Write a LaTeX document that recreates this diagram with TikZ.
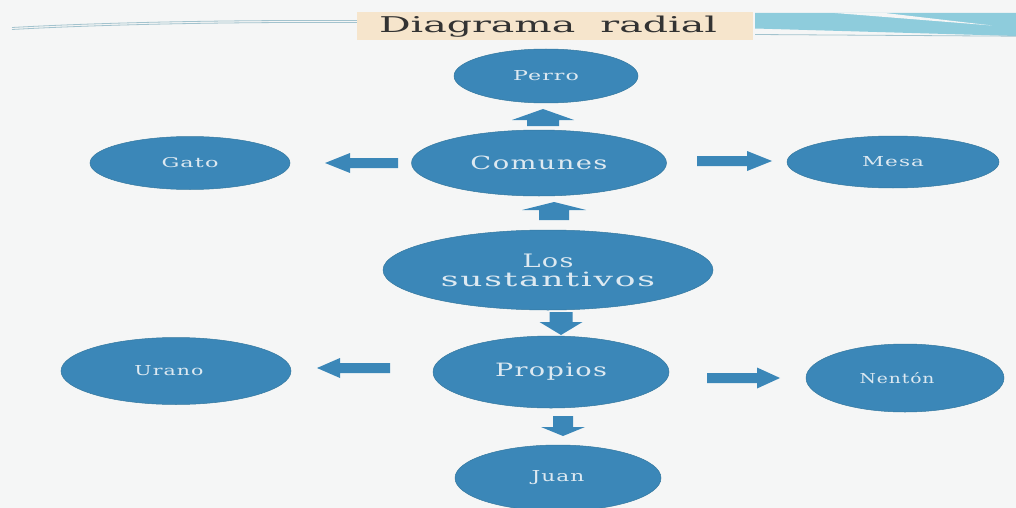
\documentclass[tikz,border=0pt]{standalone}
\usepackage{fontspec}
\usepackage{graphicx}
\usetikzlibrary{shapes.geometric}
\newfontfamily\lblfont{DejaVu Serif}
\definecolor{bg}{HTML}{F5F6F6}
\definecolor{ell}{HTML}{3B87B8}
\definecolor{elledge}{HTML}{34789F}
\definecolor{elltxt}{HTML}{DDE9F1}
\definecolor{beige}{HTML}{F6E5CC}
\definecolor{band}{HTML}{8ECCDC}
\definecolor{thinline}{HTML}{A3C3CE}
\definecolor{ttl}{HTML}{333333}
\newcommand\lbl[3]{\resizebox{#1pt}{#2pt}{\lblfont\addfontfeature{LetterSpace=5}#3}}
\newcommand\vblk[6]{\fill[ell] (#1-#5,#2) -- (#1-#5,#3) -- (#1-#6,#3) -- (#1,#4) -- (#1+#6,#3) -- (#1+#5,#3) -- (#1+#5,#2) -- cycle;}
\newcommand\hblk[6]{\fill[ell] (#2,#1-#5) -- (#3,#1-#5) -- (#3,#1-#6) -- (#4,#1) -- (#3,#1+#6) -- (#3,#1+#5) -- (#2,#1+#5) -- cycle;}
\tikzset{
  ellnode/.style={ellipse, fill=ell, draw=elledge, line width=0.5pt, inner sep=0pt, text=elltxt},
}
\begin{document}
\begin{tikzpicture}[x=1pt,y=-1pt]
\useasboundingbox (0,0) rectangle (1016,508);
\fill[bg] (0,0) rectangle (1016,508);

% header
\draw[thinline, line width=0.8pt] (12,27.5) .. controls (110,22) and (240,20) .. (357,20.5);
\draw[thinline, line width=0.8pt] (12,29.5) .. controls (110,24) and (240,22) .. (357,22.5);
\fill[beige] (357,12) rectangle (753,40);
\fill[band] (755,13) -- (1016,13) -- (1016,36) -- (755,28.5) -- cycle;
\fill[bg] (835,13) -- (885,13) -- (992,25.5) -- cycle;
\draw[thinline, line width=0.8pt] (755,34.5) -- (1016,36.2);
\node[text=ttl, anchor=base, inner sep=0pt] (title) at (548,32.5) {\resizebox{338pt}{16.5pt}{\lblfont Diagrama\ \ radial}};

% ellipses
\node[ellnode, minimum width=184pt, minimum height=54pt] (perro) at (546,76) {\lbl{66}{10}{Perro}};
\node[ellnode, minimum width=200pt, minimum height=53pt] (gato) at (190,163) {\lbl{57}{10}{Gato}};
\node[ellnode, minimum width=255pt, minimum height=66pt] (comunes) at (539,163) {\lbl{137}{13.5}{Comunes}};
\node[ellnode, minimum width=212pt, minimum height=52pt] (mesa) at (893,162) {\lbl{62}{10}{Mesa}};
\node[ellnode, minimum width=330pt, minimum height=80pt, align=center, font=\fontsize{12}{19}\selectfont] (sust) at (548,270) {\lbl{51}{13.5}{Los}\\\lbl{214}{14.5}{sustantivos}};
\node[ellnode, minimum width=230pt, minimum height=67pt] (urano) at (176,371) {\hspace*{-14pt}\lbl{69}{10}{Urano}};
\node[ellnode, minimum width=236pt, minimum height=72pt] (propios) at (551,372) {\lbl{112}{13.5}{Propios}};
\node[ellnode, minimum width=198pt, minimum height=68pt] (nenton) at (905,378) {\hspace*{-16pt}\lbl{75}{11}{Nentón}};
\node[ellnode, minimum width=206pt, minimum height=66pt] (juan) at (558,478) {\lbl{53}{11}{Juan}};

% block arrows
\vblk{543}{126}{120}{109}{16}{31}
\vblk{554}{220}{210}{202}{15}{32}
\vblk{561}{312}{322}{335}{11.5}{21.5}
\vblk{563}{416}{427}{436}{10}{22}
\hblk{163}{398}{350}{325}{5}{10}
\hblk{161}{697}{747}{772}{5}{10}
\hblk{368}{390}{340}{317}{5}{10}
\hblk{378}{707}{757}{780}{5}{10.5}
\end{tikzpicture}
\end{document}
